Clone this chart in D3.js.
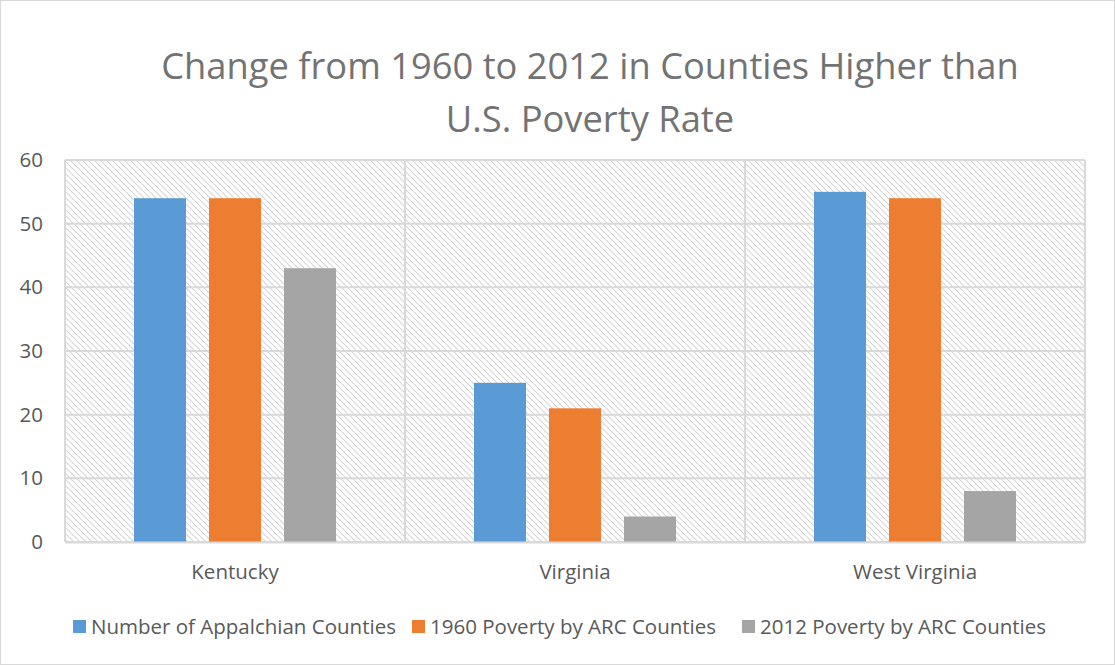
<!DOCTYPE html>
<html><head><meta charset="utf-8">
<script src="https://cdn.jsdelivr.net/npm/d3@7"></script>
<style>body{margin:0;background:#fff;}svg{display:block;font-family:"Open Sans","Liberation Sans",sans-serif;}</style>
</head><body>
<svg id="c" width="1115" height="665"></svg>
<script>
const categories = ["Kentucky", "Virginia", "West Virginia"];
const seriesNames = ["Number of Appalchian Counties", "1960 Poverty by ARC Counties", "2012 Poverty by ARC Counties"];
const appalachianCounties = [54, 25, 55];
const poverty1960 = [54, 21, 54];
const poverty2012 = [43, 4, 8];
const yTicks = [0, 10, 20, 30, 40, 50, 60];
const titleLines = ["Change from 1960 to 2012 in Counties Higher than", "U.S. Poverty Rate"];
const colors = ["#5b9bd5", "#ed7d31", "#a5a5a5"];

const series = [appalachianCounties, poverty1960, poverty2012];
const svg = d3.select("#c");
const W = 1115, H = 665;
const m = {left: 65, right: 1085, top: 160, bottom: 542};

svg.append("rect").attr("x", 0.5).attr("y", 0.5).attr("width", W - 1).attr("height", H - 1)
  .attr("fill", "#fff").attr("stroke", "#d9d9d9");

const defs = svg.append("defs");
const pat = defs.append("pattern").attr("id", "hatch").attr("patternUnits", "userSpaceOnUse")
  .attr("width", 6).attr("height", 6);
pat.append("path").attr("d", "M-1,-1 L7,7 M-1,5 L1,7 M5,-1 L7,1")
  .attr("stroke", "#d6d6d6").attr("stroke-width", 1.1);

const x = d3.scaleBand().domain(categories).range([m.left, m.right]);
const y = d3.scaleLinear().domain([0, 60]).range([m.bottom, m.top]);
const x1 = d3.scaleBand().domain(d3.range(series.length)).range([0, x.bandwidth()]).paddingInner(0.307).paddingOuter(0.92);

svg.append("rect").attr("x", m.left).attr("y", m.top).attr("width", m.right - m.left).attr("height", m.bottom - m.top)
  .attr("fill", "url(#hatch)");

// gridlines
svg.append("g").selectAll("line").data(yTicks).join("line")
  .attr("x1", m.left).attr("x2", m.right).attr("y1", d => y(d)).attr("y2", d => y(d))
  .attr("stroke", "#d9d9d9").attr("stroke-width", 2);
// vertical category lines
const vx = [m.left, ...categories.map(c => x(c) + x.bandwidth())];
svg.append("g").selectAll("line").data(vx).join("line")
  .attr("x1", d => d).attr("x2", d => d).attr("y1", m.top).attr("y2", m.bottom)
  .attr("stroke", "#d9d9d9").attr("stroke-width", 2);

// bars
series.forEach((vals, si) => {
  svg.append("g").selectAll("rect").data(vals).join("rect")
    .attr("x", (d, i) => x(categories[i]) + x1(si))
    .attr("width", x1.bandwidth())
    .attr("y", d => y(d))
    .attr("height", d => y(0) - y(d))
    .attr("fill", colors[si]);
});

// axes
const yAxis = d3.axisLeft(y).tickValues(yTicks).tickSize(0).tickPadding(22);
const gy = svg.append("g").attr("transform", `translate(${m.left},0)`).call(yAxis);
gy.select(".domain").remove();
gy.selectAll("text").attr("font-size", 20.5).attr("fill", "#595959").attr("font-family", "Open Sans, sans-serif");

const xAxis = d3.axisBottom(x).tickSize(0).tickPadding(22);
const gx = svg.append("g").attr("transform", `translate(0,${m.bottom})`).call(xAxis);
gx.select(".domain").attr("stroke", "#d9d9d9").attr("stroke-width", 2);
gx.selectAll("text").attr("font-size", 20.5).attr("fill", "#595959").attr("font-family", "Open Sans, sans-serif");

// title
svg.append("g").selectAll("text").data(titleLines).join("text")
  .attr("x", 590).attr("y", (d, i) => 79 + i * 53)
  .attr("text-anchor", "middle").attr("font-size", 36.3).attr("fill", "#737373")
  .attr("font-family", "Open Sans, sans-serif")
  .text(d => d);

// legend
const lg = svg.append("g");
const legPos = [73, 412, 742];
seriesNames.forEach((n, i) => {
  const g = lg.append("g").attr("transform", `translate(${legPos[i]},626.5)`);
  g.append("rect").attr("x", 0).attr("y", -6.5).attr("width", 13).attr("height", 13).attr("fill", colors[i]);
  g.append("text").attr("x", 18).attr("y", 0).attr("dy", "0.35em").attr("font-size", 20.5)
    .attr("fill", "#595959").text(n);
});
</script>
</body></html>
